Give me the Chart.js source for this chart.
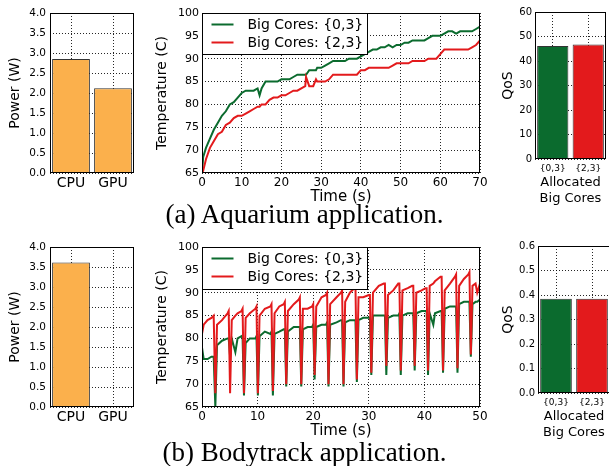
<!DOCTYPE html>
<html>
<head>
<meta charset="utf-8">
<script src="https://cdn.jsdelivr.net/npm/chart.js@4.4.0/dist/chart.umd.min.js"></script>
<style>
html, body { margin: 0; padding: 0; width: 609px; height: 466px; overflow: hidden; background: #fff; }
canvas { position: absolute; }
.cap { position: absolute; left: 0; width: 609px; text-align: center; font-family: "Liberation Serif", serif;
       font-size: 27px; line-height: 30px; color: #000; }
</style>
</head>
<body>
<canvas id="powA" width="140" height="200" style="left:0;top:0"></canvas>
<canvas id="tempA" width="342" height="210" style="left:150px;top:0"></canvas>
<canvas id="qosA" width="125" height="210" style="left:490px;top:0"></canvas>
<div class="cap" style="top:199px">(a) Aquarium application.</div>

<canvas id="powB" width="140" height="200" style="left:0;top:234px"></canvas>
<canvas id="tempB" width="342" height="210" style="left:150px;top:234px"></canvas>
<canvas id="qosB" width="125" height="210" style="left:493px;top:234px"></canvas>
<div class="cap" style="top:437px">(b) Bodytrack application.</div>

<script>
// data
var powerCats = ['CPU', 'GPU'];
var powerAquarium = [2.85, 2.12];
var powerBodytrack = [3.61, 0];

var coreSets = ['{0,3}', '{2,3}'];
var qosAquarium = [46.1, 46.7];
var qosBodytrack = [0.385, 0.385];

var seriesNames = ['Big Cores: {0,3}', 'Big Cores: {2,3}'];

// aquarium temperature trace (s, C)
var aqTime = [0, 0.3, 1, 2, 3, 4, 5, 6, 7, 8, 9, 10, 11, 12, 13, 14, 14.5, 15, 16, 17, 18, 19, 20,
  21, 22, 23, 24, 25, 26, 26.2, 27, 28, 28.7, 29, 30, 31, 32, 33, 34, 35, 36, 37, 38, 39, 40,
  41, 42, 43, 44, 45, 46, 47, 48, 49, 50, 51, 52, 53, 54, 55, 56, 57, 58, 59, 60,
  61, 62, 63, 64, 65, 66, 67, 68, 69, 70];
var aqCores03 = [65, 68.5, 70.5, 72.5, 74.5, 76, 77.5, 78.5, 80, 80.5, 81.5, 82.5, 83, 83, 83, 83.5, 82, 83.5, 85, 85, 85, 85, 85.5,
  85.5, 85.5, 86, 86.5, 86.5, 86.5, 86.5, 87.5, 87.5, 87.5, 88, 88, 88.5, 89, 89.5, 89.5, 89.5, 89.5, 90, 90, 90, 90.5,
  91, 91.5, 92, 92, 92.5, 92.5, 93, 92.5, 93, 93, 93.5, 93.5, 94, 94, 94, 94, 94.5, 95, 95, 95,
  95.5, 96, 96, 95.5, 96, 96, 96, 96, 96.5, 97];
var aqCores23 = [65, 65.5, 68, 70.5, 72, 73.5, 74, 75.5, 76, 77, 77.5, 77.5, 78, 78.5, 79, 79.5, 79.5, 80, 80, 81, 81.5, 81.5, 82,
  82, 82.5, 83, 83, 83.5, 84, 86, 84, 84, 85.5, 85, 85, 85, 85.5, 86.5, 86.5, 86.5, 86.5, 86.5, 86.5, 86.5, 87.5,
  87.5, 88, 88, 88, 88, 88, 88, 88.5, 89, 89, 89, 89, 89.5, 89.5, 89.5, 89.5, 90, 90, 90, 91,
  92, 92, 92, 92, 92, 92, 92, 92.5, 93, 94];

// bodytrack temperature trace (s, C)
var btTime = [0, 0.3, 1.0, 1.7,
  2.1, 2.4, 2.7, 3.6, 4.6,
  4.8, 5.05, 5.35, 6.0, 6.4, 7.1,
  7.3, 7.55, 7.85, 8.6, 9.6,
  9.8, 10.05, 10.35, 11.3, 12.3,
  12.5, 12.75, 13.05, 13.9, 14.7,
  14.9, 15.15, 15.45, 16.5, 17.4,
  17.6, 17.85, 18.15, 19.0, 19.8,
  20.0, 20.25, 20.55, 21.5, 22.3,
  22.5, 22.75, 23.05, 24.2, 25.0,
  25.2, 25.45, 25.75, 26.6, 27.4,
  27.6, 27.85, 28.15, 29.0, 30.0,
  30.2, 30.45, 30.75, 31.8, 32.7,
  32.9, 33.15, 33.45, 34.4, 35.3,
  35.5, 35.75, 36.05, 37.0, 37.8,
  38.0, 38.25, 38.55, 39.5, 40.2,
  40.4, 40.65, 40.95, 41.6, 41.9, 42.9,
  43.1, 43.35, 43.65, 44.6, 45.5,
  45.7, 45.95, 46.25, 47.1, 47.9,
  48.1, 48.35, 48.65, 49.2, 49.5, 50];
var btCores03 = [78, 75.5, 75.5, 76,
  76, 65, 78.5, 79.5, 80,
  80, 76, 80, 77, 80, 80.5,
  80, 67.5, 79, 80, 80,
  80.5, 67.5, 80.5, 81.5, 81,
  81.5, 67.5, 81, 81.5, 82,
  82, 69.5, 81.5, 82.5, 82.5,
  82.5, 69.5, 82, 82.5, 82.5,
  83, 71, 82.5, 83, 83,
  83.5, 69.5, 83, 83.5, 84,
  84, 69.5, 83.5, 84, 84,
  84, 70.5, 84, 84.5, 84.5,
  84.5, 72, 85, 85, 85,
  85, 72, 84.5, 85, 85,
  85.5, 72, 85, 85.5, 85.5,
  85.5, 73, 85.5, 86, 86,
  86, 72, 85.5, 83, 85.5, 86,
  86, 72.5, 86.5, 87, 87,
  87, 72.5, 87.5, 88, 88,
  88, 76, 87.5, 88, 88, 88.5];
var btCores23 = [81, 83, 84, 84.5,
  85, 68, 83, 84, 85.5,
  86, 68, 84, 85, 85.5, 86,
  86.5, 68, 84.5, 85.5, 86.5,
  87, 68, 85, 86.5, 87,
  87.5, 68.5, 85.5, 87, 87.5,
  88, 70, 86, 87.5, 88.5,
  89, 70, 86.5, 86.5, 87,
  87.5, 72, 87, 89, 89.5,
  90, 70, 87.5, 89, 90,
  90.5, 70, 88, 90, 91,
  91.5, 71, 89, 89, 89.5,
  89.5, 72.5, 90, 91.5, 92,
  92, 74, 89.5, 90.5, 92,
  92, 73, 90.5, 91, 91.5,
  91.5, 74, 90, 90.5, 91,
  91, 73, 91.5, 92, 92.5, 93.5,
  93.5, 73, 90.5, 92, 93.5,
  94, 73.5, 91.5, 93, 94,
  94.5, 76.5, 91.5, 92, 90, 92];

var green = '#0b6b2e';
var red = '#e31a1c';
var orange = '#fbb04c';
var edge = '#333333';
var gridColor = 'rgba(0,0,0,0.85)';

Chart.defaults.font.family = "'DejaVu Sans', sans-serif";
Chart.defaults.color = '#000';

function fixAxis(size) {
  return function (scale) {
    if (scale.isHorizontal()) scale.height = size;
    else scale.width = size;
  };
}

function pairs(xs, ys) {
  return xs.map(function (x, i) { return { x: x, y: ys[i] }; });
}

// black box round the plot area, like the matplotlib spines
var framePlugin = {
  id: 'frame',
  afterDatasetsDraw: function (chart) {
    var a = chart.chartArea, ctx = chart.ctx;
    ctx.save();
    ctx.strokeStyle = '#000';
    ctx.lineWidth = 1;
    ctx.strokeRect(a.left + 0.5, a.top + 0.5, a.right - a.left - 1, a.bottom - a.top - 1);
    ctx.restore();
  }
};

// legend drawn inside the plot, top left, with a frame
var boxLegend = {
  id: 'boxLegend',
  afterDraw: function (chart, args, opts) {
    if (!opts.width) return;
    var a = chart.chartArea, ctx = chart.ctx;
    var x = a.left + 0.5, y = a.top + 0.5;
    ctx.save();
    ctx.fillStyle = '#fff';
    ctx.fillRect(x, y, opts.width, opts.height);
    ctx.strokeStyle = '#000';
    ctx.lineWidth = 1;
    ctx.strokeRect(x, y, opts.width, opts.height);
    ctx.font = "14px 'DejaVu Sans'";
    ctx.textBaseline = 'middle';
    chart.data.datasets.forEach(function (ds, i) {
      var ly = y + 11 + i * 18;
      ctx.strokeStyle = ds.borderColor;
      ctx.lineWidth = 2;
      ctx.beginPath();
      ctx.moveTo(x + 9, ly);
      ctx.lineTo(x + 31, ly);
      ctx.stroke();
      ctx.fillStyle = '#000';
      ctx.fillText(ds.label, x + 45, ly + 1);
    });
    ctx.restore();
  }
};

function gridOpts() {
  return { color: gridColor, drawTicks: false, offset: false };
}
function borderOpts() {
  return { display: false, dash: [1, 2] };
}

function powerChart(id, values) {
  new Chart(document.getElementById(id), {
    type: 'bar',
    data: {
      labels: powerCats,
      datasets: [{
        data: values, backgroundColor: orange, borderColor: edge, borderWidth: 1,
        barPercentage: 0.9, categoryPercentage: 1
      }]
    },
    options: {
      responsive: false, animation: false,
      layout: { padding: { top: 13, right: 6, left: 0, bottom: 0 } },
      plugins: { legend: { display: false }, tooltip: { enabled: false } },
      scales: {
        x: {
          grid: gridOpts(), border: borderOpts(),
          ticks: { font: { size: 14 }, padding: 2 },
          afterFit: fixAxis(27)
        },
        y: {
          min: 0, max: 4,
          grid: gridOpts(), border: borderOpts(),
          ticks: { stepSize: 0.5, font: { size: 10.5 }, padding: 4, callback: function (v) { return v.toFixed(1); } },
          title: { display: true, text: 'Power (W)', font: { size: 14 }, padding: { top: 7, bottom: 0 } },
          afterFit: fixAxis(50)
        }
      }
    },
    plugins: [framePlugin]
  });
}

function tempChart(id, time, s03, s23, xMax, legendH) {
  new Chart(document.getElementById(id), {
    type: 'line',
    data: {
      datasets: [
        { label: seriesNames[0], data: pairs(time, s03), borderColor: green, borderWidth: 2,
          pointRadius: 0, tension: 0, order: 1 },
        { label: seriesNames[1], data: pairs(time, s23), borderColor: red, borderWidth: 2,
          pointRadius: 0, tension: 0, order: 0 }
      ]
    },
    options: {
      responsive: false, animation: false,
      layout: { padding: { top: 13, right: 12, left: 0, bottom: 0 } },
      plugins: {
        legend: { display: false }, tooltip: { enabled: false },
        boxLegend: { width: 165, height: legendH }
      },
      scales: {
        x: {
          type: 'linear', min: 0, max: xMax,
          grid: gridOpts(), border: borderOpts(),
          ticks: { stepSize: 10, font: { size: 12 }, padding: 3 },
          title: { display: true, text: 'Time (s)', font: { size: 15 }, padding: { top: 0, bottom: 4 } },
          afterFit: fixAxis(37)
        },
        y: {
          min: 65, max: 100,
          grid: gridOpts(), border: borderOpts(),
          ticks: { stepSize: 5, font: { size: 11 }, padding: 3 },
          title: { display: true, text: 'Temperature (C)', font: { size: 14 }, padding: { top: 4, bottom: 0 } },
          afterFit: fixAxis(52)
        }
      }
    },
    plugins: [framePlugin, boxLegend]
  });
}

function qosChart(id, values, yMax, yStep, decimals, rightPad, titlePad) {
  new Chart(document.getElementById(id), {
    type: 'bar',
    data: {
      labels: coreSets,
      datasets: [{
        data: values, backgroundColor: [green, red], borderColor: edge, borderWidth: 1,
        barPercentage: 0.88, categoryPercentage: 1
      }]
    },
    options: {
      responsive: false, animation: false,
      layout: { padding: { top: 12, right: rightPad, left: 0, bottom: 0 } },
      plugins: { legend: { display: false }, tooltip: { enabled: false } },
      scales: {
        x: {
          grid: gridOpts(), border: borderOpts(),
          ticks: { font: { size: 9 }, padding: 4 },
          title: { display: true, text: ['Allocated', 'Big Cores'], font: { size: 13 }, padding: { top: 0, bottom: 4 } },
          afterFit: fixAxis(51)
        },
        y: {
          min: 0, max: yMax,
          grid: gridOpts(), border: borderOpts(),
          ticks: { stepSize: yStep, font: { size: 10 }, padding: 3, callback: function (v) { return v.toFixed(decimals); } },
          title: { display: true, text: 'QoS', font: { size: 14 }, padding: { top: titlePad, bottom: 0 } },
          afterFit: fixAxis(45)
        }
      }
    },
    plugins: [framePlugin]
  });
}

powerChart('powA', powerAquarium);
tempChart('tempA', aqTime, aqCores03, aqCores23, 70, 41);
qosChart('qosA', qosAquarium, 60, 10, 0, 9, 10);

powerChart('powB', powerBodytrack);
tempChart('tempB', btTime, btCores03, btCores23, 50, 42);
qosChart('qosB', qosBodytrack, 0.6, 0.1, 1, 8, 7);
</script>
</body>
</html>
